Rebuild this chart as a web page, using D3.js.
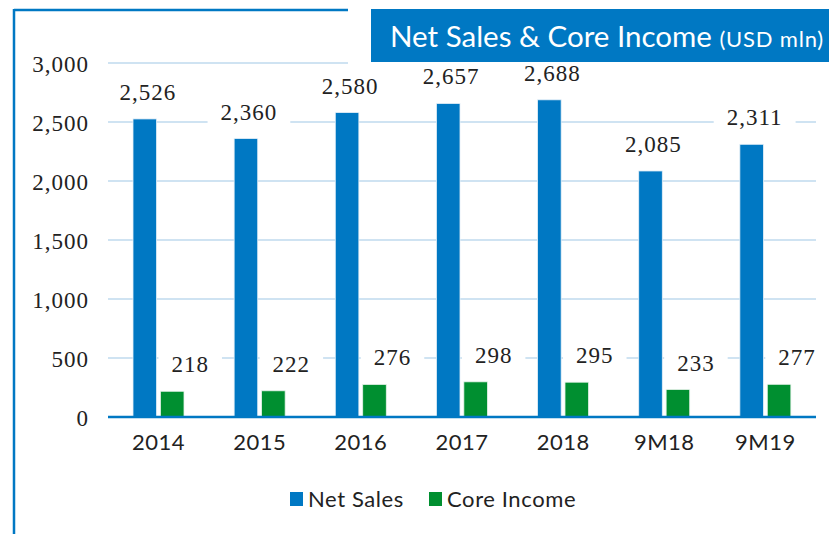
<!DOCTYPE html>
<html>
<head>
<meta charset="utf-8">
<script src="https://cdn.jsdelivr.net/npm/d3@7"></script>
<style>
  body { margin: 0; background: #fff; }
  svg { display: block; }
  .tick-y { font-family: "Liberation Serif", serif; font-size: 23px; fill: #222; letter-spacing: 1px; }
  .lbl { font-family: "Liberation Serif", serif; font-size: 23px; fill: #222; letter-spacing: 1px; }
  .tick-x { font-family: Lato, sans-serif; font-size: 22px; fill: #222; letter-spacing: 0.5px; }
  .legend { font-family: Lato, sans-serif; font-size: 22px; fill: #222; letter-spacing: 0.6px; }
</style>
</head>
<body>
<div id="vis"></div>
<script>
// data
const categories = ['2014', '2015', '2016', '2017', '2018', '9M18', '9M19'];
const netSales = [2526, 2360, 2580, 2657, 2688, 2085, 2311];
const coreIncome = [218, 222, 276, 298, 295, 233, 277];
const yTicks = [0, 500, 1000, 1500, 2000, 2500, 3000];
const seriesNames = ['Net Sales', 'Core Income'];

const blue = '#0078c3',
    green = '#008f30',
    gridColor = '#cfe3f2';

let width = 829, height = 534;
let margin = {top: 63, left: 108, right: 13, bottom: 117};

let svg = d3.select('#vis')
    .append('svg')
    .attr('width', width)
    .attr('height', height);

// scales
let xScale = d3.scaleBand()
    .domain(categories)
    .range([margin.left, width - margin.right]);

let x1 = d3.scaleBand()
    .domain(seriesNames)
    .range([25, 76])
    .paddingInner(0.14);

let yScale = d3.scaleLinear()
    .domain([0, 3000])
    .range([height - margin.bottom, margin.top]);

// frame
svg.append('line')
    .attr('x1', 14).attr('x2', 14)
    .attr('y1', 9).attr('y2', height)
    .attr('stroke', blue).attr('stroke-width', 2.5);
svg.append('line')
    .attr('x1', 14).attr('x2', 368)
    .attr('y1', 10).attr('y2', 10)
    .attr('stroke', blue).attr('stroke-width', 2.5);

// gridlines
svg.append('g')
    .selectAll('line')
    .data(yTicks.filter(t => t > 0))
    .enter()
    .append('line')
    .attr('x1', margin.left)
    .attr('x2', width - margin.right)
    .attr('y1', d => yScale(d))
    .attr('y2', d => yScale(d))
    .attr('stroke', gridColor)
    .attr('stroke-width', 2);

// white area round the title box (hides the top gridline there)
svg.append('rect')
    .attr('x', 348).attr('y', 0)
    .attr('width', width - 348).attr('height', 66)
    .attr('fill', '#fff');

// y axis labels
let yAxis = d3.axisLeft(yScale)
    .tickValues(yTicks)
    .tickFormat(d3.format(','))
    .tickSize(0)
    .tickPadding(0);

let yGuide = svg.append('g')
    .attr('transform', 'translate(89,0)')
    .call(yAxis);
yGuide.select('.domain').remove();
yGuide.selectAll('text').attr('class', 'tick-y').attr('dy', '0.35em');

// bars
let groups = svg.selectAll('g.bar')
    .data(categories)
    .enter()
    .append('g')
    .attr('class', 'bar')
    .attr('transform', d => 'translate(' + xScale(d) + ',0)');

groups.append('rect')
    .attr('x', x1('Net Sales'))
    .attr('width', x1.bandwidth())
    .attr('y', (d, i) => yScale(netSales[i]))
    .attr('height', (d, i) => yScale(0) - yScale(netSales[i]))
    .attr('fill', blue)
    .attr('stroke', '#e6f0f8')
    .attr('stroke-width', 0.8);

groups.append('rect')
    .attr('x', x1('Core Income'))
    .attr('width', x1.bandwidth())
    .attr('y', (d, i) => yScale(coreIncome[i]))
    .attr('height', (d, i) => yScale(0) - yScale(coreIncome[i]))
    .attr('fill', green)
    .attr('stroke', '#e6f2ea')
    .attr('stroke-width', 0.8);

// data labels with white boxes
function addLabel(g, x, y, txt) {
    let box = g.append('rect').attr('fill', '#fff');
    let t = g.append('text')
        .attr('class', 'lbl')
        .attr('x', x)
        .attr('y', y)
        .attr('text-anchor', 'middle')
        .text(txt);
    let bb = t.node().getBBox();
    box.attr('x', bb.x - 13)
        .attr('y', bb.y - 5)
        .attr('width', bb.width + 26)
        .attr('height', bb.height + 8);
}

groups.each(function(d, i) {
    let g = d3.select(this);
    addLabel(g, x1('Net Sales') + x1.bandwidth() / 2 + 3, yScale(netSales[i]) - 19, d3.format(',')(netSales[i]));
    addLabel(g, x1('Core Income') + x1.bandwidth() / 2 + 18, yScale(coreIncome[i]) - 19, d3.format(',')(coreIncome[i]));
});

// baseline
svg.append('line')
    .attr('x1', margin.left)
    .attr('x2', width - margin.right)
    .attr('y1', yScale(0))
    .attr('y2', yScale(0))
    .attr('stroke', blue)
    .attr('stroke-width', 2.5);

// x axis labels
let xAxis = d3.axisBottom(xScale).tickSize(0).tickPadding(0);
let xGuide = svg.append('g')
    .attr('transform', 'translate(0,' + (yScale(0) + 25) + ')')
    .call(xAxis);
xGuide.select('.domain').remove();
xGuide.selectAll('text').attr('class', 'tick-x').attr('dy', '0.35em');

// legend
let legend = svg.append('g');
let legendItems = [
    {name: seriesNames[0], color: blue, x: 290},
    {name: seriesNames[1], color: green, x: 429}
];
legendItems.forEach(function(item) {
    legend.append('rect')
        .attr('x', item.x).attr('y', 492)
        .attr('width', 13).attr('height', 14)
        .attr('fill', item.color);
    legend.append('text')
        .attr('class', 'legend')
        .attr('x', item.x + 18)
        .attr('y', 507)
        .text(item.name);
});

// title box
svg.append('rect')
    .attr('x', 371).attr('y', 9)
    .attr('width', width - 371).attr('height', 53)
    .attr('fill', blue);
let title = svg.append('text')
    .attr('x', 390)
    .attr('y', 47)
    .attr('fill', '#fff')
    .attr('font-family', 'Lato, sans-serif');
title.append('tspan').attr('font-size', '29.5px').text('Net Sales & Core Income ');
title.append('tspan').attr('font-size', '22px').attr('letter-spacing', '0.8px').text('(USD mln)');
</script>
</body>
</html>
